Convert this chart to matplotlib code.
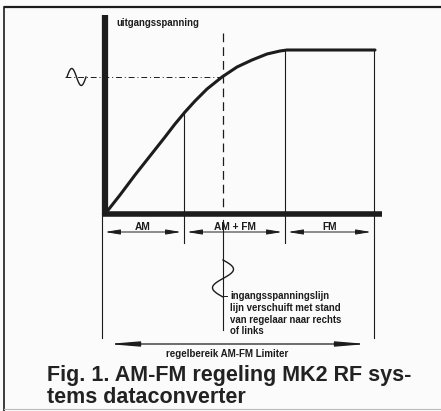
import numpy as np
import matplotlib
matplotlib.use("Agg")
import matplotlib.pyplot as plt

# ---- data (chart units: input voltage -> output voltage) ----
curve_in = [0, 15, 30, 45, 60, 70, 80, 90, 102, 117, 132, 147, 162, 175, 182, 225, 270]
curve_out = [0, 19, 39, 58, 77, 90, 102, 113, 125, 137, 147, 154, 160, 163, 164, 164, 164]
zone_bounds = [-3, 79, 180, 269]
zone_labels = ["AM", "AM + FM", "FM"]
op_in, op_out = 118, 137
y_label = "uitgangsspanning"
input_note = ["ingangsspanningslijn", "lijn verschuift met stand",
              "van regelaar naar rechts", "of links"]
range_label = "regelbereik AM-FM Limiter"
title_lines = ["Fig. 1. AM-FM regeling MK2 RF sys-", "tems dataconverter"]

INK = "#1c1c1c"
plt.rcParams['font.family'] = ['Liberation Sans', 'DejaVu Sans']

fig = plt.figure(figsize=(4.41, 4.11), dpi=100, facecolor="#fbfbfb")
ax = fig.add_axes([0, 0, 1, 1])
ax.set_xlim(-105, 336)
ax.set_ylim(-197, 214)
ax.axis("off")
ax.set_facecolor("#fbfbfb")

# frame
ax.plot([-101, 336], [207, 207], color=INK, lw=1.6, solid_capstyle="butt")
ax.plot([-101, -101], [207, -197], color=INK, lw=1.2)
ax.plot([-101, 336], [-195, -195], color="#bbbbbb", lw=0.8)

# axes (thick)
ax.plot([0, 0], [-1, 199], color=INK, lw=4.5, solid_capstyle="butt")
ax.plot([-3, 277], [0, 0], color=INK, lw=4.0, solid_capstyle="butt")

# curve
ax.plot(curve_in, curve_out, color=INK, lw=2.2, solid_capstyle="round",
        solid_joinstyle="round")

# zone boundary lines
cin = np.array(curve_in, dtype=float)
cout = np.array(curve_out, dtype=float)
for i, xb in enumerate(zone_bounds):
    ytop = np.interp(xb, cin, cout) if xb > 0 else 0
    ybot = -124 if i in (0, len(zone_bounds) - 1) else -29
    ax.plot([xb, xb], [ytop, ybot], color=INK, lw=0.8)

# operating point lines
ax.plot([op_in, op_in], [181, 0], color=INK, lw=0.9, dashes=(7, 4))
ax.plot([-40, op_in], [op_out, op_out], color=INK, lw=0.7, dashes=(6, 3, 1, 3))
ax.plot([op_in, op_in], [-6, -116], color=INK, lw=0.8)

# sine symbol left (output)
t = np.linspace(0, 1, 60)
ax.plot(-38 + 19 * t, op_out + 8.5 * np.sin(2 * np.pi * t), color=INK, lw=1.0)
# sine symbol below (input)
ax.plot(op_in + 10.5 * np.sin(2 * np.pi * t), -46 - 37 * t, color=INK, lw=1.0)

# zone arrows + labels
for lab, a, b in zip(zone_labels, zone_bounds[:-1], zone_bounds[1:]):
    ax.annotate("", xy=(b - 3, -18), xytext=(a + 3, -18),
                arrowprops=dict(arrowstyle="<|-|>,head_length=0.9,head_width=0.15",
                                color=INK, lw=0.7, shrinkA=0, shrinkB=0))
    ax.text((a + b) / 2, -13, lab, ha="center", va="center",
            fontsize=7.3, fontweight="bold", color=INK)

ax.text(11, 191, y_label, ha="left", va="center", fontsize=6.9,
        fontweight="bold", color=INK)

ax.plot([op_in, op_in + 4], [-82, -82], color=INK, lw=0.7)
for k, line in enumerate(input_note):
    ax.text(125, -82 - 11.8 * k, line, ha="left", va="center", fontsize=6.9,
            fontweight="bold", color=INK)

ax.annotate("", xy=(262, -130), xytext=(3, -130),
            arrowprops=dict(arrowstyle="<|-|>,head_length=1.8,head_width=0.15",
                            color=INK, lw=0.9, shrinkA=0, shrinkB=0))
ax.text(122, -140, range_label, ha="center", va="center", fontsize=7.0,
        fontweight="bold", color=INK)

for k, line in enumerate(title_lines):
    ax.text(-58, -161 - 22 * k, line, ha="left", va="center", fontsize=15.5,
            fontweight="bold", color="#222222")

fig.savefig("out.png", dpi=100, facecolor=fig.get_facecolor())
